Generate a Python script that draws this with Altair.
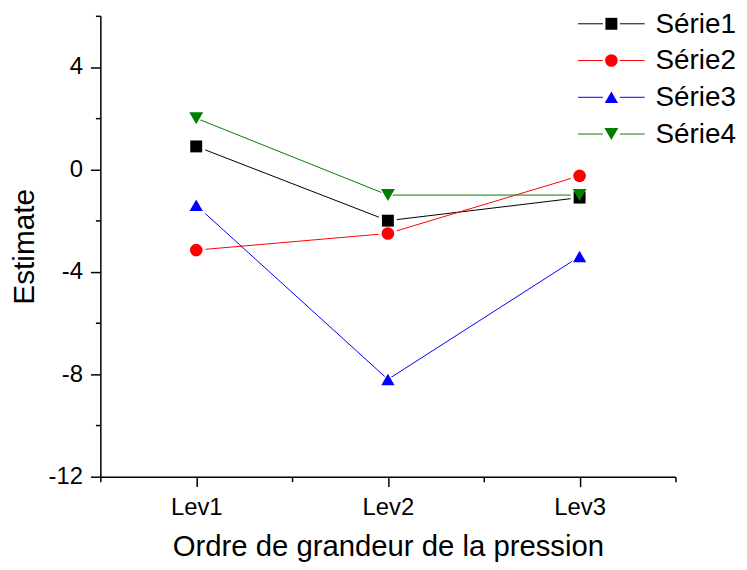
import altair as alt
import pandas as pd

levels = ["Lev1", "Lev2", "Lev3"]
level_pos = [1, 2, 3]
series = ["Série1", "Série2", "Série3", "Série4"]
s1 = [0.9, -2.0, -1.1]
s2 = [-3.15, -2.5, -0.25]
s3 = [-1.4, -8.2, -3.4]
s4 = [2.0, -1.0, -1.0]
colors = ["#000000", "#ff0000", "#0000ff", "#008000"]
y_major = [-12, -8, -4, 0, 4]
y_minor = [-10, -6, -2, 2, 6]
x_minor = [0.5, 1.5, 2.5, 3.5]

rows = []
for name, vals in zip(series, [s1, s2, s3, s4]):
    for lv, pos, v in zip(levels, level_pos, vals):
        rows.append({"series": name, "level": lv, "x": pos, "value": v})
df = pd.DataFrame(rows)
legend_df = pd.DataFrame({"series": series})

FONT = "Liberation Sans"
shapes = ["square", "circle", "triangle-up", "triangle-down"]
marker_sizes = [144, 196, 250, 250]
halo_sizes = [324, 400, 620, 620]

label_expr = " : ".join(
    f"datum.value == {p} ? '{l}'" for p, l in zip(level_pos, levels)
) + " : ''"

xscale = alt.Scale(domain=[0.5, 3.5], nice=False, zero=False)
yscale = alt.Scale(domain=[-12, 6], nice=False, zero=False)
cscale = alt.Scale(domain=series, range=colors)
shscale = alt.Scale(domain=series, range=shapes)

base_axis = dict(
    grid=False, domainColor="black", tickColor="black", labelColor="black",
    titleColor="black", labelFont=FONT, titleFont=FONT, domainWidth=1.5,
    tickWidth=1.5, titleFontWeight="normal",
)

x_main = alt.Axis(
    values=level_pos, labelExpr=label_expr, tickSize=10, labelFontSize=24,
    labelPadding=9, title="Ordre de grandeur de la pression", titleFontSize=29.5,
    titleBaseline="alphabetic", titleY=79, orient="bottom", **base_axis,
)
y_main = alt.Axis(
    values=y_major, labelExpr="'' + datum.value", tickSize=10, labelFontSize=24,
    labelPadding=8, title="Estimate", titleFontSize=30, titleBaseline="alphabetic",
    titleX=-67, orient="left", **base_axis,
)
x_min = alt.Axis(values=x_minor, tickSize=5, labels=False, domain=False,
                 title=None, orient="bottom", grid=False, tickColor="black", tickWidth=1.5)
y_min = alt.Axis(values=y_minor, tickSize=5, labels=False, domain=False,
                 title=None, orient="left", grid=False, tickColor="black", tickWidth=1.5)

lines = alt.Chart(df).mark_line(strokeWidth=1).encode(
    x=alt.X("x:Q", scale=xscale, axis=x_main),
    y=alt.Y("value:Q", scale=yscale, axis=y_main),
    color=alt.Color("series:N", scale=cscale, legend=None),
    detail="series:N",
)

halo = alt.Chart(df).mark_point(filled=True, opacity=1, color="white").encode(
    x=alt.X("x:Q", scale=xscale, axis=x_min),
    y=alt.Y("value:Q", scale=yscale, axis=y_min),
    shape=alt.Shape("series:N", scale=shscale, legend=None),
    size=alt.Size("series:N", scale=alt.Scale(domain=series, range=halo_sizes), legend=None),
)

points = alt.Chart(df).mark_point(filled=True, opacity=1).encode(
    x=alt.X("x:Q", scale=xscale, axis=None),
    y=alt.Y("value:Q", scale=yscale, axis=None),
    color=alt.Color("series:N", scale=cscale, legend=None),
    shape=alt.Shape("series:N", scale=shscale, legend=None),
    size=alt.Size("series:N", scale=alt.Scale(domain=series, range=marker_sizes), legend=None),
)

# legend drawn from its own small table, rows placed by a point scale
ly = alt.Y("series:N", scale=alt.Scale(type="point", domain=series, range=[8, 119], padding=0),
           axis=None)

leg_left = alt.Chart(legend_df).mark_rule(strokeWidth=1).encode(
    x=alt.value(481), x2=alt.value(506), y=ly,
    color=alt.Color("series:N", scale=cscale, legend=None),
)
leg_right = alt.Chart(legend_df).mark_rule(strokeWidth=1).encode(
    x=alt.value(523), x2=alt.value(548), y=ly,
    color=alt.Color("series:N", scale=cscale, legend=None),
)
leg_pts = alt.Chart(legend_df).mark_point(filled=True, opacity=1).encode(
    x=alt.value(514.5), y=ly,
    color=alt.Color("series:N", scale=cscale, legend=None),
    shape=alt.Shape("series:N", scale=shscale, legend=None),
    size=alt.Size("series:N", scale=alt.Scale(domain=series, range=marker_sizes), legend=None),
)
leg_txt = alt.Chart(legend_df).mark_text(
    align="left", baseline="middle", font=FONT, fontSize=28, color="black", dy=1
).encode(x=alt.value(559), y=ly, text="series:N")

legend_layer = alt.layer(leg_left, leg_right, leg_pts, leg_txt)

chart = alt.layer(lines, halo, points, legend_layer).resolve_scale(
    size="independent", y="independent"
).resolve_axis(x="independent", y="independent").properties(
    width=579, height=464,
    padding={"left": 93, "top": 6, "right": 64, "bottom": 84},
    autosize=alt.AutoSizeParams(type="none"),
).configure_view(stroke=None)

chart.save("out.html", embed_options={"renderer": "svg", "actions": False})
